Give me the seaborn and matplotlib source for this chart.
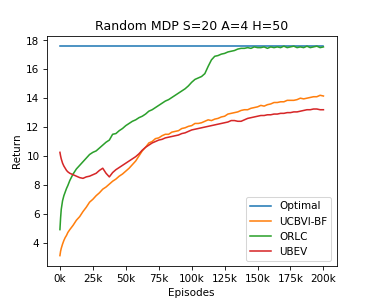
import pandas as pd
import matplotlib.pyplot as plt
import seaborn as sns

# Episodes (in thousands) at which returns were read
episodes_k = [0, 0.5, 1, 2, 3, 4, 5, 6, 7.5,
              10, 12.5, 15, 17.5, 20, 22.5, 25, 27.5, 30, 32.5, 35, 37.5, 40, 42.5, 45, 47.5,
              50, 52.5, 55, 57.5, 60, 62.5, 65, 67.5, 70, 72.5, 75, 77.5, 80, 82.5, 85, 87.5,
              90, 92.5, 95, 97.5, 100, 102.5, 105, 107.5, 110, 112.5, 115, 117.5, 120, 122.5,
              125, 127.5, 130, 132.5, 135, 137.5, 140, 142.5, 145, 147.5, 150, 152.5, 155,
              157.5, 160, 162.5, 165, 167.5, 170, 172.5, 175, 177.5, 180, 182.5, 185, 187.5,
              190, 192.5, 195, 197.5, 200]

optimal_return = 17.6

ucbvi_bf = [3.1, 3.4, 3.6, 3.9, 4.15, 4.35, 4.5, 4.7, 4.9,
            5.2, 5.55, 5.8, 6.15, 6.45, 6.8, 7.0, 7.25, 7.45, 7.7, 7.85, 8.05, 8.25, 8.4, 8.6, 8.75,
            8.95, 9.15, 9.4, 9.65, 10.0, 10.35, 10.6, 10.9, 11.0, 11.2, 11.25, 11.4, 11.5, 11.5,
            11.65, 11.7, 11.75, 11.9, 11.95, 12.05, 12.1, 12.25, 12.25, 12.3, 12.4, 12.5, 12.45,
            12.55, 12.6, 12.7, 12.75, 12.9, 12.95, 13.0, 13.05, 13.15, 13.2, 13.2, 13.3, 13.35,
            13.4, 13.5, 13.45, 13.55, 13.6, 13.7, 13.7, 13.75, 13.75, 13.85, 13.85, 13.85, 13.9,
            14.0, 13.95, 14.0, 14.05, 14.1, 14.1, 14.2, 14.15]

orlc = [4.9, 5.7, 6.3, 6.9, 7.25, 7.5, 7.75, 7.95, 8.3,
        8.75, 9.1, 9.35, 9.6, 9.85, 10.1, 10.25, 10.35, 10.55, 10.75, 10.95, 11.1, 11.5, 11.55,
        11.75, 11.9, 12.1, 12.25, 12.4, 12.5, 12.65, 12.75, 12.9, 13.1, 13.2, 13.35, 13.5, 13.65,
        13.8, 13.9, 14.05, 14.2, 14.35, 14.5, 14.65, 14.85, 15.1, 15.3, 15.4, 15.5, 15.7, 16.2,
        16.65, 16.9, 16.95, 17.05, 17.1, 17.2, 17.25, 17.3, 17.4, 17.45, 17.45, 17.5, 17.45,
        17.55, 17.5, 17.5, 17.55, 17.45, 17.55, 17.5, 17.55, 17.5, 17.6, 17.5, 17.55, 17.6,
        17.5, 17.55, 17.5, 17.6, 17.5, 17.55, 17.6, 17.5, 17.55]

ubev = [10.25, 10.0, 9.8, 9.5, 9.3, 9.15, 9.0, 8.9, 8.8,
        8.7, 8.6, 8.5, 8.45, 8.55, 8.6, 8.7, 8.8, 9.0, 9.15, 8.8, 8.55, 8.85, 9.05, 9.2, 9.35,
        9.5, 9.65, 9.8, 9.95, 10.15, 10.4, 10.6, 10.75, 10.9, 11.0, 11.1, 11.15, 11.25, 11.3,
        11.35, 11.4, 11.45, 11.55, 11.6, 11.7, 11.8, 11.85, 11.9, 11.95, 12.0, 12.05, 12.1,
        12.15, 12.2, 12.25, 12.3, 12.35, 12.45, 12.45, 12.4, 12.4, 12.5, 12.6, 12.65, 12.7,
        12.75, 12.8, 12.8, 12.85, 12.85, 12.9, 12.9, 12.95, 12.95, 13.0, 13.0, 13.05, 13.05,
        13.1, 13.15, 13.2, 13.2, 13.25, 13.25, 13.2, 13.2]

algorithms = ['Optimal', 'UCBVI-BF', 'ORLC', 'UBEV']
x_ticks = [0, 25, 50, 75, 100, 125, 150, 175, 200]
x_tick_labels = ['0k', '25k', '50k', '75k', '100k', '125k', '150k', '175k', '200k']

# Long-form table for seaborn
frames = []
for name, values in zip(algorithms, [[optimal_return] * len(episodes_k), ucbvi_bf, orlc, ubev]):
    frames.append(pd.DataFrame({'episodes': [e * 1000 for e in episodes_k],
                                'ret': values, 'algorithm': name}))
df = pd.concat(frames)

fig, ax = plt.subplots(figsize=(5, 4), dpi=74.8)
sns.lineplot(data=df, x='episodes', y='ret', hue='algorithm', hue_order=algorithms,
             palette='tab10', estimator=None, linewidth=1.5, ax=ax)

ax.set_xticks([t * 1000 for t in x_ticks])
ax.set_xticklabels(x_tick_labels)
ax.set_title('Random MDP S=20 A=4 H=50')
ax.set_xlabel('Episodes')
ax.set_ylabel('Return')
ax.legend(loc='lower right')

plt.savefig('out.png', dpi=74.8)
plt.close()
